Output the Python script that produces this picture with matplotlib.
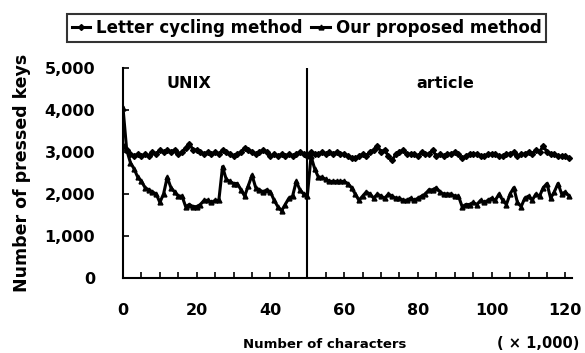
import numpy as np
import matplotlib.pyplot as plt
from matplotlib.ticker import MultipleLocator, FuncFormatter

# chars typed (x 1,000) vs number of pressed keys
chars = list(range(0, 122))

letter_cycling = [3150, 3050, 2950, 2900, 2950, 2900, 2950, 2900, 3000, 2950,
                  3050, 3000, 3050, 3000, 3050, 2950, 3000, 3100, 3200, 3050,
                  3050, 3000, 2950, 3000, 2950, 3000, 2950, 3050, 3000, 2950,
                  2900, 2950, 3000, 3100, 3050, 3000, 2950, 3000, 3050, 3000,
                  2900, 2950, 2900, 2950, 2900, 2950, 2900, 2950, 3000, 2950,
                  2900, 3000, 2950, 2950, 3000, 2950, 3000, 2950, 3000, 2950,
                  2950, 2900, 2850, 2850, 2900, 2950, 2900, 3000, 3050, 3150,
                  3000, 3050, 2900, 2800, 2950, 3000, 3050, 2950, 2950, 2950,
                  2900, 3000, 2950, 2950, 3050, 2900, 2950, 2900, 2950, 2950,
                  3000, 2950, 2850, 2900, 2950, 2950, 2950, 2900, 2900, 2950,
                  2950, 2950, 2900, 2900, 2950, 2950, 3000, 2900, 2950, 2950,
                  3000, 2950, 3050, 3000, 3150, 3000, 2950, 2950, 2900, 2900,
                  2900, 2850]

proposed = [4050, 3050, 2750, 2600, 2400, 2300, 2150, 2100, 2050, 2000,
            1800, 2000, 2400, 2150, 2050, 1950, 1950, 1700, 1750, 1700,
            1700, 1750, 1850, 1850, 1800, 1850, 1850, 2650, 2350, 2300,
            2250, 2250, 2100, 1950, 2200, 2450, 2150, 2100, 2050, 2100,
            2050, 1850, 1700, 1600, 1750, 1900, 1950, 2300, 2100, 2000,
            1950, 2900, 2600, 2400, 2400, 2350, 2300, 2300, 2300, 2300,
            2300, 2250, 2150, 2000, 1850, 1950, 2050, 2000, 1900, 2000,
            1950, 1900, 2000, 1950, 1900, 1900, 1850, 1850, 1900, 1850,
            1900, 1950, 2000, 2100, 2100, 2150, 2050, 2000, 2000, 2000,
            1950, 1950, 1700, 1750, 1750, 1800, 1750, 1850, 1800, 1850,
            1900, 1850, 2000, 1850, 1750, 2000, 2150, 1800, 1700, 1900,
            1950, 1850, 2000, 1950, 2150, 2250, 1900, 2050, 2250, 2000,
            2050, 1950]

series_names = ["Letter cycling method", "Our proposed method"]
split_at = 50

fig = plt.figure(figsize=(5.85, 3.53), dpi=100)
ax = fig.add_axes([123 / 585, 1 - 278 / 353, 449 / 585, 210 / 353])

l1, = ax.plot(chars, letter_cycling, color="black", lw=2.2, marker="D",
              markersize=3, label=series_names[0])
l2, = ax.plot(chars, proposed, color="black", lw=2.2, marker="^",
              markersize=3.5, label=series_names[1])

ax.axvline(split_at, color="black", lw=1.5)
ax.text(18, 4640, "UNIX", ha="center", va="center", fontsize=11.5, fontweight="bold")
ax.text(87.5, 4640, "article", ha="center", va="center", fontsize=11.5, fontweight="bold")

ax.set_xlim(0, 121.8)
ax.set_ylim(0, 5000)
ax.spines["top"].set_visible(False)
ax.spines["right"].set_visible(False)
ax.spines["left"].set_linewidth(1.5)
ax.spines["bottom"].set_linewidth(1.5)

ax.xaxis.set_major_locator(MultipleLocator(20))
ax.xaxis.set_minor_locator(MultipleLocator(5))
ax.yaxis.set_major_locator(MultipleLocator(1000))
ax.yaxis.set_major_formatter(FuncFormatter(lambda v, p: f"{int(v):,}"))
ax.tick_params(axis="x", which="both", direction="in", length=4, width=1.2,
               pad=18, labelsize=11.5)
ax.tick_params(axis="y", direction="in", length=4, width=1.2, pad=20, labelsize=11.5)
for t in ax.get_xticklabels() + ax.get_yticklabels():
    t.set_fontweight("bold")

ax.set_ylabel("Number of pressed keys", fontsize=12.5, fontweight="bold")
ax.yaxis.set_label_coords(-0.205, 0.5)
ax.set_xlabel("Number of characters", fontsize=9.5, fontweight="bold")
ax.xaxis.set_label_coords(0.45, -0.285)
fig.text(538 / 585, 1 - 343 / 353, "( \u00d7 1,000)", ha="center", va="center",
         fontsize=10.5, fontweight="bold")

leg = fig.legend(handles=[l1, l2], loc="center", bbox_to_anchor=(0.524, 0.921),
                 ncol=2, frameon=True, fancybox=False, edgecolor="black",
                 handlelength=1.1, handletextpad=0.35, columnspacing=0.55,
                 borderpad=0.3, prop={"size": 12, "weight": "bold"})
leg.get_frame().set_linewidth(1.5)

fig.savefig("out.png", dpi=100)
